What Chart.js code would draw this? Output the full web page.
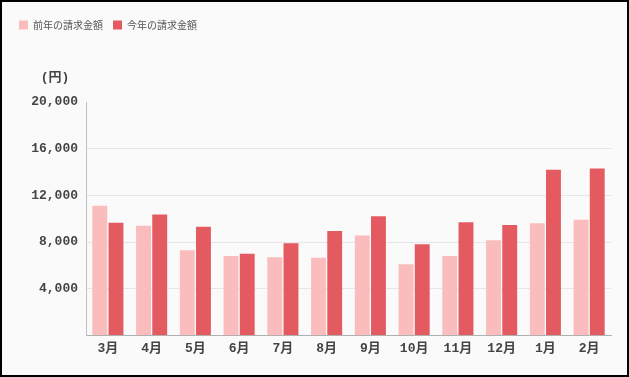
<!DOCTYPE html>
<html>
<head>
<meta charset="utf-8">
<script src="https://cdn.jsdelivr.net/npm/chart.js@4"></script>
<style>
  html, body { margin: 0; padding: 0; background: #fff; }
  #wrap {
    width: 629px; height: 377px; box-sizing: border-box;
    border: 2px solid #000; background: #fafafa;
  }
  #wrap div { position: relative; width: 625px; height: 373px; }
</style>
</head>
<body>
<div id="wrap"><div><canvas id="seikyu"></canvas></div></div>
<script>
// 月ごとの請求金額
const months = ['3月', '4月', '5月', '6月', '7月', '8月', '9月', '10月', '11月', '12月', '1月', '2月'];
const prevYear = [11100, 9400, 7300, 6800, 6700, 6650, 8550, 6100, 6800, 8150, 9600, 9900];
const thisYear = [9650, 10350, 9300, 7000, 7900, 8950, 10200, 7800, 9700, 9450, 14200, 14300];
const yTicks = [0, 4000, 8000, 12000, 16000, 20000];

// 凡例の下に余白をとる
const legendSpace = {
  id: 'legendSpace',
  beforeLayout(chart) {
    const lg = chart.legend;
    if (!lg || lg._spaced) return;
    const fit = lg.fit;
    lg.fit = function () {
      fit.call(this);
      this.height += 62;
    };
    lg._spaced = true;
  }
};

const unitLabel = {
  id: 'unitLabel',
  afterDraw(chart) {
    const { ctx, chartArea } = chart;
    ctx.save();
    ctx.fillStyle = '#444';
    ctx.font = 'bold 13px "Liberation Mono", "Noto Sans CJK JP", monospace';
    ctx.textAlign = 'center';
    ctx.textBaseline = 'middle';
    ctx.fillText('(円)', chartArea.left - 31, chartArea.top - 24);
    ctx.restore();
  }
};

new Chart(document.getElementById('seikyu'), {
  type: 'bar',
  data: {
    labels: months,
    datasets: [
      { label: '前年の請求金額', data: prevYear, backgroundColor: '#fbbcbd' },
      { label: '今年の請求金額', data: thisYear, backgroundColor: '#e35b61' }
    ]
  },
  options: {
    responsive: true,
    maintainAspectRatio: false,
    animation: false,
    categoryPercentage: 0.74,
    barPercentage: 0.92,
    layout: { padding: { left: 7, right: 16, top: 8, bottom: 20 } },
    plugins: {
      legend: {
        position: 'top',
        align: 'start',
        labels: {
          boxWidth: 9, boxHeight: 9, padding: 10,
          color: '#555',
          font: { size: 10, family: '"Noto Sans CJK JP", sans-serif' }
        }
      },
      tooltip: { enabled: false }
    },
    scales: {
      x: {
        grid: { display: false },
        border: { color: '#b0b0b0', width: 1 },
        ticks: {
          color: '#444', padding: -2,
          font: { size: 13, weight: 'bold', family: '"Liberation Mono", "Noto Sans CJK JP", monospace' }
        }
      },
      y: {
        min: 0, max: 20000,
        afterBuildTicks(scale) { scale.ticks = yTicks.map(v => ({ value: v })); },
        afterFit(scale) { scale.width = 77; },
        grid: {
          drawTicks: false,
          color: ctx => (ctx.tick && (ctx.tick.value === 20000 || ctx.tick.value === 0)) ? 'rgba(0,0,0,0)' : '#e6e6e8'
        },
        border: { color: '#c0c0c0', width: 1 },
        ticks: {
          color: '#444', padding: 8,
          font: { size: 13, weight: 'bold', family: '"Liberation Mono", monospace' },
          callback: v => v === 0 ? '' : v.toLocaleString('en-US')
        }
      }
    }
  },
  plugins: [legendSpace, unitLabel]
});
</script>
</body>
</html>
